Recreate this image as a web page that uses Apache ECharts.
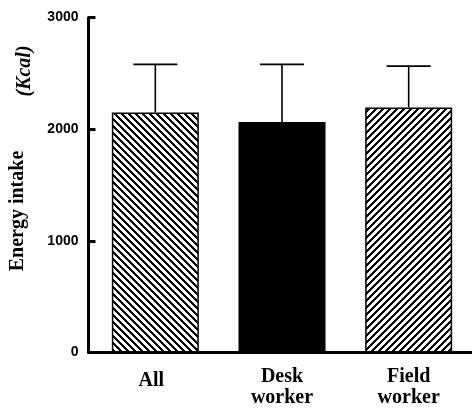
<!DOCTYPE html>
<html>
<head>
<meta charset="utf-8">
<script src="https://cdn.jsdelivr.net/npm/echarts@6/dist/echarts.min.js"></script>
<style>
  html, body { margin: 0; padding: 0; background: #fff; }
  #chart { width: 472px; height: 409px; }
</style>
</head>
<body>
<div id="chart"></div>
<script>
// Daily energy intake by group (mean + SD)
const categories = ['All', 'Desk\nworker', 'Field\nworker'];
const meanIntake = [2150, 2065, 2195];
const sdIntake = [430, 515, 370];
const yTicks = [0, 1000, 2000, 3000];

const SERIF = '"Liberation Serif", "Times New Roman", Times, serif';
const SANS = '"Liberation Sans", Arial, Helvetica, sans-serif';

// Diagonal hatch tiles: dir 1 = "\\", dir -1 = "/"
function hatch(dir) {
  const n = 7, c = document.createElement('canvas');
  c.width = n; c.height = n;
  const ctx = c.getContext('2d');
  const img = ctx.createImageData(n, n);
  for (let y = 0; y < n; y++) {
    for (let x = 0; x < n; x++) {
      const k = dir > 0 ? (((x - y) % n) + n) % n : (x + y) % n;
      const v = k < 3 ? 0 : 255;
      const i = (y * n + x) * 4;
      img.data[i] = v; img.data[i + 1] = v; img.data[i + 2] = v; img.data[i + 3] = 255;
    }
  }
  ctx.putImageData(img, 0, 0);
  return c;
}

const fills = [
  { image: hatch(1), repeat: 'repeat' },
  '#000000',
  { image: hatch(-1), repeat: 'repeat' }
];

const barData = meanIntake.map((v, i) => ({
  value: v,
  itemStyle: { color: fills[i], borderColor: '#000', borderWidth: 1.5 }
}));

const errData = meanIntake.map((v, i) => [i, v, v + sdIntake[i]]);

const chart = echarts.init(document.getElementById('chart'), null, { renderer: 'canvas' });

chart.setOption({
  animation: false,
  backgroundColor: '#fff',
  grid: { left: 92, right: -3, top: 17.5, bottom: 56.5, containLabel: false },
  xAxis: {
    type: 'category',
    data: categories,
    axisLine: { lineStyle: { color: '#000', width: 3 } },
    axisTick: { show: false },
    axisLabel: {
      margin: 14,
      color: '#000',
      fontFamily: SERIF,
      fontWeight: 'bold',
      fontSize: 20,
      lineHeight: 21,
      formatter: v => v.indexOf('\n') >= 0 ? v : '{one|' + v + '}',
      rich: {
        one: {
          fontFamily: SERIF, fontWeight: 'bold', fontSize: 20, lineHeight: 21,
          color: '#000', padding: [8, 8, 0, 0]
        }
      }
    }
  },
  yAxis: {
    type: 'value',
    min: yTicks[0],
    max: yTicks[yTicks.length - 1],
    interval: 1000,
    offset: 3.5,
    axisLine: { show: true, lineStyle: { color: '#000', width: 3 } },
    axisTick: { show: true, inside: true, length: 7, lineStyle: { color: '#000', width: 3 } },
    splitLine: { show: false },
    axisLabel: {
      margin: 10, color: '#000', fontFamily: SANS, fontWeight: 'bold', fontSize: 14,
      formatter: v => String(v)
    }
  },
  graphic: [
    { type: 'line', shape: { x1: 88, y1: 352.5, x2: 94, y2: 352.5 }, style: { stroke: '#000', lineWidth: 3 } },
    {
      type: 'text', x: 18, y: 211, rotation: Math.PI / 2,
      style: { text: 'Energy intake', fill: '#000', font: 'bold 20px ' + SERIF, align: 'center', verticalAlign: 'middle' }
    },
    {
      type: 'text', x: 25, y: 71, rotation: Math.PI / 2,
      style: { text: '(Kcal)', fill: '#000', font: 'italic bold 20px ' + SERIF, align: 'center', verticalAlign: 'middle' }
    }
  ],
  series: [
    {
      type: 'bar',
      data: barData,
      barWidth: 87,
      z: 2
    },
    {
      type: 'custom',
      z: 3,
      data: errData,
      renderItem: function (params, api) {
        const idx = api.value(0);
        const base = api.coord([idx, api.value(1)]);
        const top = api.coord([idx, api.value(2)]);
        const half = 22;
        const style = { stroke: '#000', lineWidth: 1.6 };
        return {
          type: 'group',
          children: [
            { type: 'line', shape: { x1: base[0], y1: base[1], x2: top[0], y2: top[1] }, style: style },
            { type: 'line', shape: { x1: top[0] - half, y1: top[1], x2: top[0] + half, y2: top[1] }, style: style }
          ]
        };
      }
    }
  ]
});
</script>
</body>
</html>
